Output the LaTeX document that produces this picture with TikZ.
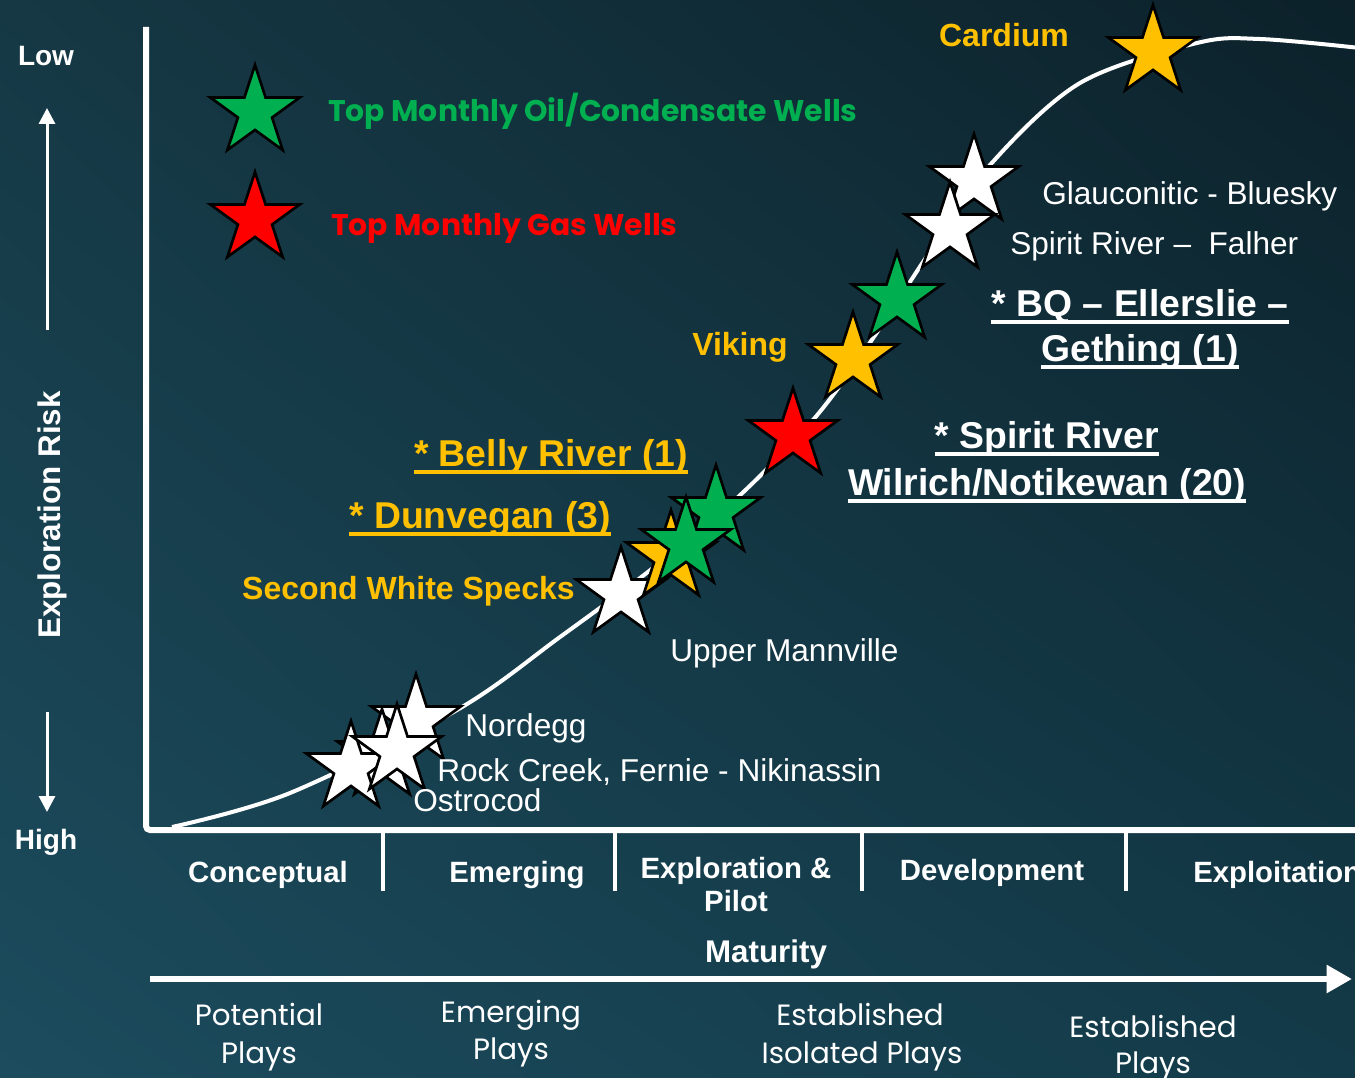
\documentclass[tikz,border=0pt]{standalone}
\usepackage{fontspec}
\setmainfont{Liberation Sans}
\newfontfamily\gothicfont{Poppins}
\usetikzlibrary{arrows.meta,shapes.geometric,shadings}
\definecolor{oilgreen}{RGB}{0,176,80}
\definecolor{gasred}{RGB}{255,0,0}
\definecolor{playgold}{RGB}{255,192,0}
\definecolor{bgul}{RGB}{21,56,68}
\definecolor{bgur}{RGB}{12,33,42}
\definecolor{bgll}{RGB}{28,76,94}
\definecolor{bglr}{RGB}{19,58,72}

\begin{document}
\begin{tikzpicture}[x=0.75pt, y=-0.75pt,
    wellstar/.style={star, star points=5, star point ratio=2.618, minimum size=70.5pt,
      inner sep=0pt, draw=black, line width=2pt},
    oilstar/.style={wellstar, fill=oilgreen},
    gasstar/.style={wellstar, fill=gasred},
    goldstar/.style={wellstar, fill=playgold},
    whitestar/.style={wellstar, fill=white},
    axisline/.style={white, line width=4.5pt},
    lbl/.style={inner sep=0pt, anchor=base, text=white},
    boldlbl/.style={lbl, font=\bfseries\fontsize{24pt}{28pt}\selectfont},
    biglbl/.style={lbl, font=\bfseries\fontsize{28pt}{34pt}\selectfont},
    playlbl/.style={lbl, anchor=base west, font=\fontsize{23.7pt}{28pt}\selectfont},
    stagelbl/.style={lbl, font=\bfseries\fontsize{22pt}{25pt}\selectfont},
    classlbl/.style={lbl, align=center, font=\gothicfont\fontsize{22pt}{29pt}\selectfont},
    legendlbl/.style={lbl, anchor=base west, font=\gothicfont\bfseries\fontsize{22.4pt}{27pt}\selectfont},
    underl/.style={line width=3pt}]

  % background
  \useasboundingbox (0,0) rectangle (1355,1077);
  \shade[upper left=bgul, upper right=bgur, lower left=bgll, lower right=bglr] (0,0) rectangle (1355,1077);
  \clip (0,0) rectangle (1355,1077);

  % risk axis
  \draw[axisline, rounded corners=3pt] (146,27) -- (146,830) -- (1360,830);
  \draw[white, line width=2.25pt, -{Triangle[width=12pt,length=12pt]}] (47,330) -- (47,108);
  \draw[white, line width=2.25pt, -{Triangle[width=12pt,length=12pt]}] (47,712) -- (47,812);
  \node[boldlbl, font=\bfseries\fontsize{21pt}{25pt}\selectfont] (low) at (46,66) {Low};
  \node[boldlbl, font=\bfseries\fontsize{21pt}{25pt}\selectfont] (high) at (46,849) {High};
  \node[boldlbl, font=\bfseries\fontsize{23.5pt}{27pt}\selectfont, rotate=90] (risk) at (60,515) {Exploration Risk};

  % maturity stages
  \foreach \sx in {383,615,862,1126}
    \draw[white, line width=3pt] (\sx,833) -- (\sx,891);
  \node[stagelbl] (conceptual) at (268,882) {Conceptual};
  \node[stagelbl] (emerging) at (517,882) {Emerging};
  \node[stagelbl] (explpilot) at (736,878) {Exploration \&};
  \node[stagelbl] (pilot) at (736,911) {Pilot};
  \node[stagelbl] (development) at (992,880) {Development};
  \node[stagelbl, anchor=base west] (exploitation) at (1193,882) {Exploitation};
  \node[stagelbl, font=\bfseries\fontsize{23.5pt}{28pt}\selectfont] (maturity) at (766,962) {Maturity};
  \draw[white, line width=5pt, -{Triangle[width=20pt,length=19pt]}] (150,979) -- (1352,979);

  % play classes
  \node[classlbl] (potential) at (259,1025) {Potential};
  \node[classlbl] (potential2) at (259,1063) {Plays};
  \node[classlbl] (emergplays) at (511,1022) {Emerging};
  \node[classlbl] (emergplays2) at (511,1059) {Plays};
  \node[classlbl] (isolated) at (860,1025) {Established};
  \node[classlbl] (isolated2) at (862,1063) {Isolated Plays};
  \node[classlbl] (established) at (1153,1037) {Established};
  \node[classlbl] (established2) at (1153,1073) {Plays};

  % maturity curve
  \draw[white, line width=3pt] plot[smooth, tension=0.55] coordinates {
    (172,827) (290,793) (457,710) (560,637) (653,568) (737,498) (813,420)
    (867,347) (933,247) (990,165) (1080,83) (1197,43) (1260,39) (1360,48)};

  % legend
  \node[oilstar] (keyoil) at (255,112) {};
  \node[gasstar] (keygas) at (255,219) {};
  \node[legendlbl, text=oilgreen] (keyoiltxt) at (328,122) {Top Monthly Oil/Condensate Wells};
  \node[legendlbl, text=gasred] (keygastxt) at (331,235) {Top Monthly Gas Wells};

  % wells along the curve
  \node[whitestar] (nordegg) at (416,721) {};
  \node[whitestar] (rockcreek) at (382,756) {};
  \node[whitestar] (ostrocod) at (351,768) {};
  \node[whitestar] (fernie) at (397,751) {};
  \node[whitestar] (mannville) at (621,594) {};
  \node[oilstar] (bellyriver) at (716,512) {};
  \node[goldstar] (specks) at (671,557) {};
  \node[oilstar] (dunvegan) at (686,544) {};
  \node[gasstar] (wilrich) at (793,435) {};
  \node[oilstar] (gething) at (897,299) {};
  \node[goldstar] (viking) at (853,359) {};
  \node[whitestar] (bluesky) at (974,181) {};
  \node[whitestar] (falher) at (950,229) {};
  \node[goldstar] (cardium) at (1153,52) {};

  % play names
  \node[boldlbl, text=playgold] (cardiumtxt) at (1004,47) {Cardium};
  \node[boldlbl, text=playgold] (vikingtxt) at (740,355) {Viking};
  \node[boldlbl, text=playgold, anchor=base east] (speckstxt) at (575,599) {Second White Specks};
  \node[biglbl, text=playgold] (bellytxt) at (551,466) {* Belly River (1)};
  \node[biglbl, text=playgold] (dunvegantxt) at (480,528) {* Dunvegan (3)};
  \node[biglbl] (bqtxt) at (1140,316) {* BQ – Ellerslie –};
  \node[biglbl] (gethingtxt) at (1140,361) {Gething (1)};
  \node[biglbl] (spirittxt) at (1047,448) {* Spirit River};
  \node[biglbl] (wilrichtxt) at (1047,495) {Wilrich/Notikewan (20)};
  \foreach \n/\c in {bellytxt/playgold, dunvegantxt/playgold, bqtxt/white,
      gethingtxt/white, spirittxt/white, wilrichtxt/white}
    \draw[underl, \c] ([yshift=-4.5pt]\n.base west) -- ([yshift=-4.5pt]\n.base east);
  \node[playlbl] (blueskytxt) at (1042,204) {Glauconitic - Bluesky};
  \node[playlbl] (falhertxt) at (1010,254) {Spirit River –\ \ Falher};
  \node[playlbl] (mannvilletxt) at (670,661) {Upper Mannville};
  \node[playlbl] (nordeggtxt) at (465,736) {Nordegg};
  \node[playlbl] (rockcreektxt) at (437,781) {Rock Creek, Fernie - Nikinassin};
  \node[playlbl] (ostrocodtxt) at (413,811) {Ostrocod};
\end{tikzpicture}
\end{document}
